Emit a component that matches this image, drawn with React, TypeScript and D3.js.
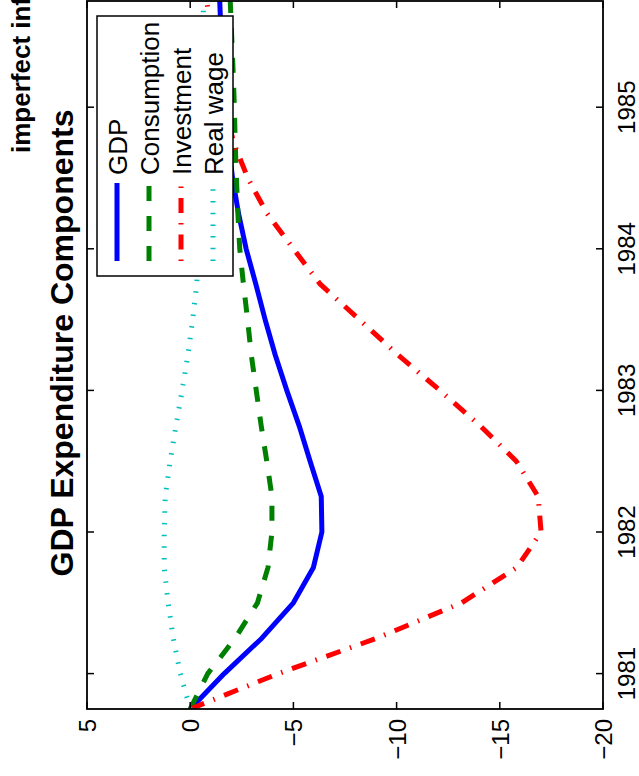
import React from 'react';
import * as d3 from 'd3';

// Quarterly dates (x axis of the original, unrotated chart)
const quarters = [
  1980.75, 1981.0, 1981.25, 1981.5, 1981.75, 1982.0, 1982.25, 1982.5, 1982.75,
  1983.0, 1983.25, 1983.5, 1983.75, 1984.0, 1984.25, 1984.5, 1984.75,
  1985.0, 1985.25, 1985.5, 1985.75,
];

const gdp = [
  0, -1.65, -3.47, -5.0, -5.97, -6.38, -6.35, -5.81, -5.28, -4.68, -4.12,
  -3.63, -3.18, -2.71, -2.34, -2.05, -1.85, -1.7, -1.58, -1.5, -1.43,
];
const consumption = [
  0, -0.85, -2.18, -3.26, -3.77, -3.96, -3.96, -3.71, -3.44, -3.2, -2.96,
  -2.78, -2.58, -2.4, -2.31, -2.24, -2.18, -2.14, -2.08, -2.01, -1.94,
];
const investment = [
  0, -4.27, -9.04, -13.15, -15.83, -17.0, -16.86, -15.8, -14.05, -12.1, -10.07,
  -8.2, -6.3, -5.0, -3.72, -2.79, -2.1, -1.7, -1.35, -1.05, -0.8,
];
const realWage = [
  0, 0.48, 0.82, 1.07, 1.26, 1.26, 1.21, 0.97, 0.69, 0.39, 0.11,
  -0.12, -0.32, -0.41, -0.48, -0.53, -0.57, -0.6, -0.62, -0.63, -0.64,
];

const seriesNames = ['GDP', 'Consumption', 'Investment', 'Real wage'];
const yearTicks = [1981, 1982, 1983, 1984, 1985];
const valueTicks = [5, 0, -5, -10, -15, -20];
const titleLine1 = 'imperfect information';
const titleLine2 = 'GDP Expenditure Components';

const FONT = '"Liberation Sans", Arial, Helvetica, sans-serif';

export default function App() {
  const W = 639;
  const H = 776;
  const left = 87;
  const right = 603;
  const top = 1;
  const bottom = 709;

  // time runs bottom -> top, values run left (5) -> right (-20)
  const tScale = d3.scaleLinear().domain([1980.75, 1985.75]).range([bottom, top]);
  const vScale = d3.scaleLinear().domain([5, -20]).range([left, right]);

  const series = [gdp, consumption, investment, realWage];
  const colors = ['#0000FF', '#008000', '#FF0000', '#00BFBF'];
  const dashes = [undefined, '15,15', '15,10,1.5,10', '1.5,10.2'];
  const legendOffsets = [0, 0, 25, 0];

  const lineGen = d3
    .line<number>()
    .x((d) => vScale(d))
    .y((_, i) => tScale(quarters[i]));

  const tickLen = 7;

  const legend = { x0: 97, x1: 233, y0: 16, y1: 276 };
  const legendLineX = [117, 149, 181, 213];
  const legendTextX = [127, 159, 191, 223];

  return (
    <svg
      width={W}
      height={H}
      style={{ position: 'absolute', left: 0, top: 0, display: 'block', background: '#fff' }}
      fontFamily={FONT}
    >
      <defs>
        <clipPath id="plotclip">
          <rect x={left} y={top} width={right - left} height={bottom - top} />
        </clipPath>
      </defs>
      <rect x={0} y={0} width={W} height={H} fill="#fff" />

      {/* titles */}
      <text
        transform={`translate(30,153) rotate(-90)`}
        fontSize={26}
        fontWeight="bold"
        textAnchor="start"
      >
        {titleLine1}
      </text>
      <text
        transform={`translate(73,343) rotate(-90)`}
        fontSize={32}
        fontWeight="bold"
        textAnchor="middle"
      >
        {titleLine2}
      </text>

      {/* data lines */}
      <g clipPath="url(#plotclip)">
        {series.map((s, i) => (
          <path
            key={seriesNames[i]}
            d={lineGen(s) || ''}
            fill="none"
            stroke={colors[i]}
            strokeWidth={5}
            strokeDasharray={dashes[i]}
            strokeLinejoin="round"
          />
        ))}
      </g>

      {/* ticks */}
      {yearTicks.map((y) => (
        <g key={'yt' + y}>
          <line x1={left} x2={left + tickLen} y1={tScale(y)} y2={tScale(y)} stroke="#000" strokeWidth={1.5} />
          <line x1={right} x2={right - tickLen} y1={tScale(y)} y2={tScale(y)} stroke="#000" strokeWidth={1.5} />
          <text
            transform={`translate(635,${tScale(y)}) rotate(-90)`}
            fontSize={24}
            textAnchor="middle"
          >
            {y}
          </text>
        </g>
      ))}
      {valueTicks.map((v) => (
        <g key={'vt' + v}>
          <line x1={vScale(v)} x2={vScale(v)} y1={bottom} y2={bottom - tickLen} stroke="#000" strokeWidth={1.5} />
          <line x1={vScale(v)} x2={vScale(v)} y1={top} y2={top + tickLen} stroke="#000" strokeWidth={1.5} />
          <text
            transform={`translate(${vScale(v) + 9},719) rotate(-90)`}
            fontSize={24}
            textAnchor="end"
          >
            {v < 0 ? '\u2212' + Math.abs(v) : String(v)}
          </text>
        </g>
      ))}

      {/* axes box */}
      <rect
        x={left}
        y={top}
        width={right - left}
        height={bottom - top}
        fill="none"
        stroke="#000"
        strokeWidth={1.8}
      />

      {/* legend */}
      <rect
        x={legend.x0}
        y={legend.y0}
        width={legend.x1 - legend.x0}
        height={legend.y1 - legend.y0}
        fill="#fff"
        stroke="#000"
        strokeWidth={1.5}
      />
      {seriesNames.map((name, i) => (
        <g key={'lg' + name}>
          <path
            d={`M${legendLineX[i]},261V183`}
            stroke={colors[i]}
            strokeWidth={5}
            fill="none"
            strokeDasharray={dashes[i]}
            strokeDashoffset={legendOffsets[i]}
          />
          <text
            transform={`translate(${legendTextX[i]},175) rotate(-90)`}
            fontSize={26}
            textAnchor="start"
          >
            {name}
          </text>
        </g>
      ))}
    </svg>
  );
}
